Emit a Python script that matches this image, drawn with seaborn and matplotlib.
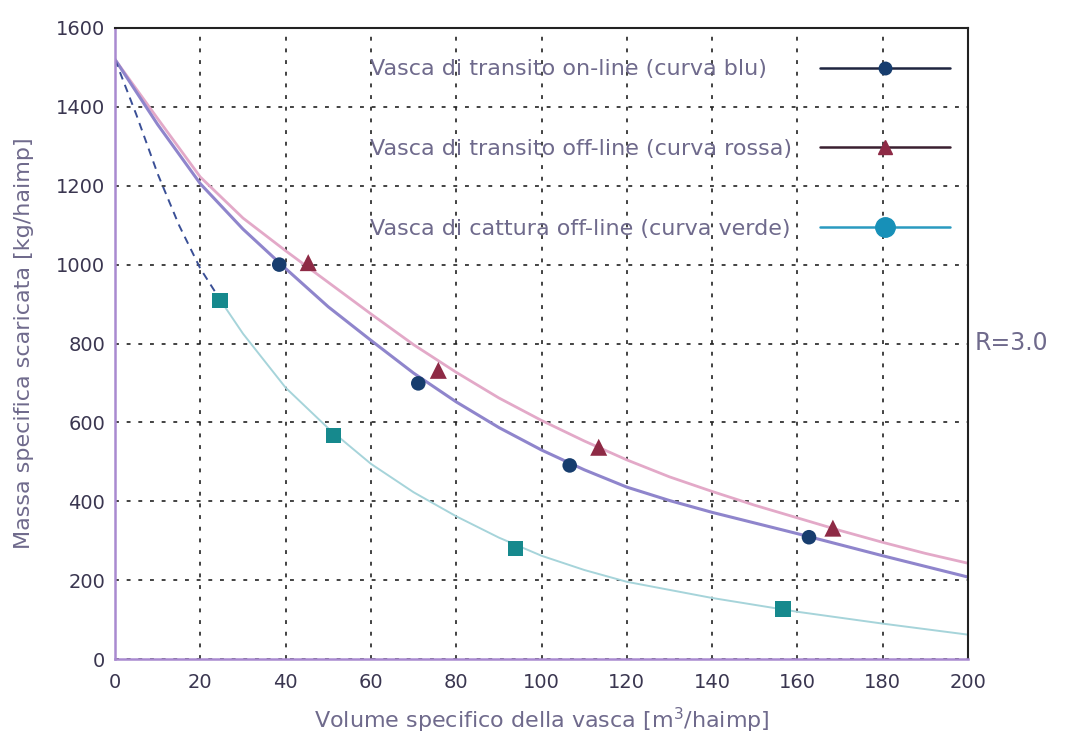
import numpy as np
import pandas as pd
import matplotlib
matplotlib.use("Agg")
import matplotlib.pyplot as plt
import seaborn as sns
from matplotlib.lines import Line2D

sns.set_theme(style="white")
plt.rcParams['font.family'] = ['DejaVu Sans']

# curve points
curve_x = [0, 10, 20, 30, 40, 50, 60, 70, 80, 90, 100, 110, 120, 130, 140, 150, 160, 170, 180, 190, 200]
blue_curve = [1520, 1355, 1205, 1090, 990, 893, 808, 725, 652, 587, 530, 480, 436, 402, 372, 345, 318, 290, 262, 235, 208]
red_curve = [1520, 1370, 1222, 1118, 1035, 955, 875, 797, 727, 662, 605, 553, 505, 462, 425, 390, 358, 326, 296, 268, 243]
green_x = [0, 5, 10, 15, 20, 25, 30, 40, 50, 60, 70, 80, 90, 100, 110, 120, 140, 160, 180, 200]
green_curve = [1520, 1380, 1230, 1100, 990, 905, 825, 688, 585, 495, 423, 362, 308, 262, 226, 196, 155, 120, 90, 62]

# measured points
blue_px = [38.5, 71.1, 106.6, 162.7]
blue_py = [1000, 699, 491, 309]
red_px = [45.3, 75.8, 113.4, 168.3]
red_py = [1005, 732, 537, 332]
green_px = [24.6, 51.2, 93.9, 156.6]
green_py = [909, 567, 281, 127]

labels = ["Vasca di transito on-line (curva blu)",
          "Vasca di transito off-line (curva rossa)",
          "Vasca di cattura off-line (curva verde)"]
x_ticks = [0, 20, 40, 60, 80, 100, 120, 140, 160, 180, 200]
y_ticks = [0, 200, 400, 600, 800, 1000, 1200, 1400, 1600]

c_blue_line = "#8f85cc"
c_red_line = "#e3a9c8"
c_green_line = "#a6d4da"
c_blue_mk = "#173d6e"
c_red_mk = "#8e2a45"
c_green_mk = "#16898d"
c_text = "#6f6a8c"

fig = plt.figure(figsize=(10.65, 7.34), dpi=100)
ax = fig.add_axes([0.108, 0.102, 0.801, 0.860])

df_b = pd.DataFrame({"x": curve_x, "y": blue_curve})
df_r = pd.DataFrame({"x": curve_x, "y": red_curve})
df_g = pd.DataFrame({"x": green_x, "y": green_curve})

sns.lineplot(data=df_r, x="x", y="y", ax=ax, color=c_red_line, lw=2.0, sort=False)
sns.lineplot(data=df_b, x="x", y="y", ax=ax, color=c_blue_line, lw=2.2, sort=False)
# green: dashed dark blue on the steep part, faint teal afterwards
sns.lineplot(data=df_g.iloc[:6], x="x", y="y", ax=ax, color="#3a4f96", lw=1.4, linestyle=(0, (4, 3)), sort=False)
sns.lineplot(data=df_g.iloc[5:], x="x", y="y", ax=ax, color=c_green_line, lw=1.4, sort=False)

sns.scatterplot(x=blue_px, y=blue_py, ax=ax, color=c_blue_mk, marker="o", s=110, edgecolor="none", zorder=5)
sns.scatterplot(x=red_px, y=red_py, ax=ax, color=c_red_mk, marker="^", s=150, edgecolor="none", zorder=5)
sns.scatterplot(x=green_px, y=green_py, ax=ax, color=c_green_mk, marker="s", s=120, edgecolor="none", zorder=5)

ax.set_xlim(0, 200)
ax.set_ylim(0, 1600)
ax.set_xticks(x_ticks)
ax.set_yticks(y_ticks)
ax.set_xticklabels([str(v) for v in x_ticks], color="#3a3650", fontsize=14)
ax.set_yticklabels([str(v) for v in y_ticks], color="#3a3650", fontsize=14)
ax.tick_params(axis="x", length=0, pad=10)
ax.tick_params(axis="y", length=0, pad=7)
ax.grid(True, color="#222222", linestyle=(0, (2, 4)), linewidth=1.4, alpha=0.85)
ax.set_axisbelow(True)

for side in ["top", "right"]:
    ax.spines[side].set_color("#222222")
    ax.spines[side].set_linewidth(1.5)
for side in ["left", "bottom"]:
    ax.spines[side].set_color("#a98ad0")
    ax.spines[side].set_linewidth(1.8)

ax.set_xlabel("Volume specifico della vasca [m$^3$/haimp]", color=c_text, fontsize=16, labelpad=10)
ax.set_ylabel("Massa specifica scaricata [kg/haimp]", color=c_text, fontsize=16, labelpad=16)

handles = [
    Line2D([], [], color="#1f2540", lw=1.8, marker="o", markersize=9, markerfacecolor=c_blue_mk, markeredgecolor=c_blue_mk),
    Line2D([], [], color="#3a2030", lw=1.8, marker="^", markersize=10, markerfacecolor=c_red_mk, markeredgecolor=c_red_mk),
    Line2D([], [], color="#2a9ac0", lw=1.8, marker="o", markersize=14, markerfacecolor="#1790b8", markeredgecolor="#1790b8"),
]
leg = ax.legend(handles, labels, loc="upper right", bbox_to_anchor=(0.979, 0.950),
                frameon=False, markerfirst=False, fontsize=16, labelspacing=2.68,
                handlelength=5.85, handletextpad=2.0, borderaxespad=0.0, borderpad=0.0)
for t in leg.get_texts():
    t.set_color(c_text)

# left-align the label texts while keeping the handles in one column
try:
    for col in leg._legend_handle_box.get_children():
        col.align = "left"
        for item in col.get_children():
            item.mode = "expand"
            item.width = 580
except Exception:
    pass

fig.text(975 / 1065, 1 - 343 / 734, "R=3.0", color=c_text, fontsize=17, va="center", ha="left")

fig.savefig("out.png", dpi=100, facecolor="white")
